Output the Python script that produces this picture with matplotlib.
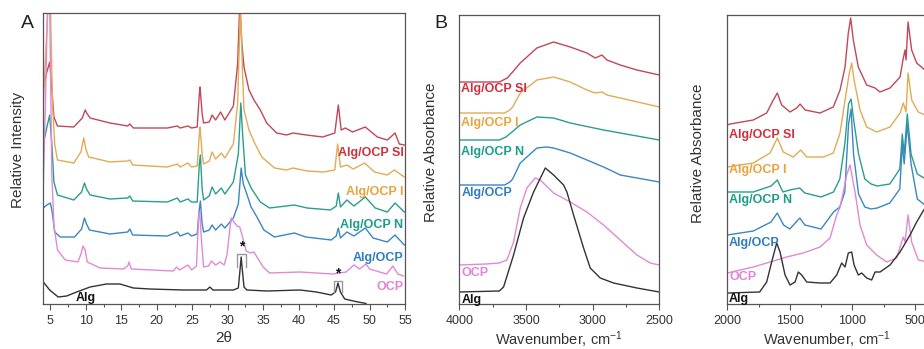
import matplotlib
matplotlib.use("Agg")
import matplotlib.pyplot as plt

plt.rcParams["font.family"] = ["Liberation Sans", "DejaVu Sans"]
plt.rcParams["mathtext.fontset"] = "custom"
plt.rcParams["mathtext.rm"] = "Liberation Sans"
plt.rcParams["mathtext.it"] = "Liberation Sans:italic"

# ---------------- XRD patterns (2theta, stacked intensity, a.u.) ----------------
xrd_alg_x = [4.0, 4.9, 6.1, 7.3, 8.7, 10.6, 12.9, 14.8, 16.7, 19.0, 23.7, 27.0, 27.5, 27.9,
             30.8, 31.5, 31.75, 31.9, 32.05, 32.3, 32.7, 35.5, 40.2, 42.5, 44.6, 45.2, 45.4,
             45.55, 45.7, 45.9, 46.5, 47.7, 49.5]
xrd_alg_y = [22, 14, 7, 8, 12, 17, 20, 20, 16, 15, 14, 14, 17, 14,
             14, 16, 35, 47, 35, 17, 14, 13, 14, 12, 9, 12, 17,
             21, 17, 12, 5, 3, 0.5]

xrd_ocp_x = [4.0, 4.3, 4.6, 4.9, 5.2, 5.5, 6.0, 7.1, 8.9, 9.3, 9.6, 9.9, 10.2, 12.0, 15.3,
             15.9, 16.1, 16.4, 22.3, 22.8, 23.2, 24.4, 24.9, 25.6, 25.9, 26.05, 26.3, 26.6,
             27.3, 27.7, 28.3, 28.9, 29.5, 29.9, 30.3, 30.5, 30.9, 31.3, 31.7, 32.1, 32.6,
             33.2, 33.7, 34.3, 35.0, 35.9, 40.2, 44.8, 46.7, 47.8, 48.6, 49.5, 50.0, 52.4,
             53.3, 54.0, 54.8]
xrd_ocp_y = [120, 200, 300, 300, 130, 79, 54, 44, 42, 50, 58, 54, 42, 36, 35,
             38, 42, 35, 33, 37, 34, 39, 34, 38, 88, 92, 64, 37,
             38, 43, 39, 42, 39, 49, 75, 86, 82, 78, 77, 67, 53,
             51, 52, 45, 37, 31, 32, 30, 32, 39, 35, 40, 35, 30,
             38, 30, 28]

xrd_a_x = [4.0, 4.5, 5.0, 5.3, 5.6, 6.4, 8.4, 9.4, 9.8, 10.1, 10.5, 13.4, 15.9, 16.2, 16.6,
           21.5, 22.9, 23.3, 24.4, 24.9, 25.7, 26.0, 26.15, 26.4, 26.6, 27.4, 27.8, 28.3,
           29.1, 29.6, 30.8, 31.5, 31.9, 32.2, 32.6, 33.3, 34.2, 35.1, 36.6, 39.4, 41.0,
           44.6, 45.3, 45.6, 45.9, 46.8, 47.8, 49.4, 50.5, 52.5, 53.6, 54.9]
xrd_a_y = [96, 99, 101, 90, 72, 67, 67, 75, 86, 80, 74, 70, 72, 75, 69,
           68, 72, 68, 71, 68, 70, 95, 103, 80, 72, 74, 79, 74,
           80, 76, 86, 100, 136, 120, 112, 97, 86, 74, 67, 71, 67,
           64, 68, 76, 66, 72, 68, 76, 66, 62, 69, 59]

xrd_n_x = [4.0, 4.6, 4.9, 5.2, 5.5, 6.0, 8.3, 9.4, 9.8, 10.1, 10.6, 13.4, 15.9, 16.2, 16.6,
           21.5, 22.9, 23.3, 24.4, 24.9, 25.7, 26.0, 26.15, 26.4, 26.6, 27.4, 27.8, 28.3,
           29.1, 29.6, 30.8, 31.5, 31.85, 32.1, 32.5, 33.3, 34.6, 35.9, 39.4, 41.2, 44.5,
           45.3, 45.6, 45.9, 46.8, 47.8, 49.4, 50.8, 52.5, 53.6, 54.9]
xrd_n_y = [160, 180, 189, 160, 122, 109, 104, 112, 121, 115, 109, 105, 106, 108, 103,
           102, 106, 102, 105, 102, 102, 140, 149, 115, 104, 108, 117, 110,
           116, 110, 122, 150, 201, 170, 129, 116, 102, 96, 99, 96, 94,
           98, 111, 97, 104, 98, 107, 96, 92, 101, 92]

xrd_i_x = [4.0, 4.4, 4.7, 5.0, 5.3, 5.6, 6.0, 8.3, 9.3, 9.7, 10.0, 10.4, 13.4, 15.9, 16.2,
           16.6, 21.5, 22.9, 23.3, 24.4, 24.9, 25.7, 26.0, 26.1, 26.4, 26.6, 27.4, 27.8,
           28.3, 29.1, 29.6, 30.8, 31.4, 31.8, 32.1, 32.3, 33.0, 33.8, 34.8, 36.6, 38.3,
           39.2, 41.2, 43.5, 45.1, 45.5, 45.9, 46.8, 47.7, 49.3, 50.7, 52.5, 53.5, 54.9]
xrd_i_y = [200, 260, 300, 300, 200, 160, 144, 141, 152, 166, 155, 147, 142, 143, 144,
           139, 137, 140, 137, 141, 137, 138, 170, 177, 150, 140, 143, 152,
           145, 151, 146, 160, 200, 300, 230, 194, 174, 161, 147, 136, 134,
           136, 133, 132, 134, 160, 137, 139, 135, 141, 132, 129, 134, 127]

xrd_si_x = [4.0, 4.5, 4.9, 5.2, 5.5, 6.0, 8.3, 9.5, 9.9, 10.2, 10.6, 13.4, 15.9, 16.2, 16.7,
            21.5, 22.9, 23.3, 24.4, 24.9, 25.7, 26.0, 26.1, 26.4, 26.6, 27.4, 27.8, 28.3,
            29.0, 29.6, 30.8, 31.4, 31.7, 32.0, 32.3, 33.0, 33.7, 34.6, 35.5, 36.9, 38.3,
            39.2, 41.1, 43.4, 45.1, 45.6, 46.0, 46.6, 47.6, 49.4, 51.1, 52.5, 53.6, 54.2, 54.9]
xrd_si_y = [216, 232, 242, 215, 187, 178, 177, 186, 194, 190, 186, 181, 178, 180, 176,
            176, 178, 176, 178, 176, 177, 210, 217, 190, 181, 182, 189, 184,
            192, 184, 198, 240, 300, 260, 237, 214, 204, 194, 181, 171, 169,
            171, 169, 167, 171, 199, 174, 176, 172, 177, 167, 164, 171, 160, 159]

# NaCl reflections marked with an asterisk on the alginate pattern
nacl_peaks = [31.95, 45.55]
nacl_box_top = [50, 23]
nacl_box_bottom = [37, 12]

# ---------------- FTIR, O-H stretching region (cm-1, stacked absorbance, a.u.) ----------------
oh_si_x = [4000, 3700, 3640, 3600, 3543, 3418, 3293, 3168, 3043, 2980, 2930, 2893, 2793, 2668, 2500]
oh_si_y = [222, 222, 226, 232, 241, 256, 262, 257, 251, 246, 249, 244, 239, 234, 229]
oh_i_x = [4000, 3660, 3620, 3600, 3543, 3418, 3293, 3168, 3043, 2980, 2930, 2893, 2793, 2500]
oh_i_y = [191, 191, 194, 197, 211, 224, 227, 222, 214, 211, 212, 209, 206, 197]
oh_n_x = [4000, 3700, 3650, 3543, 3418, 3293, 3168, 2918, 2500]
oh_n_y = [164, 164, 167, 179, 187, 186, 181, 174, 164]
oh_a_x = [4000, 3660, 3620, 3600, 3543, 3418, 3343, 3293, 3168, 3043, 2918, 2793, 2500]
oh_a_y = [119, 119, 122, 125, 141, 156, 157, 156, 151, 144, 137, 129, 122]
oh_ocp_x = [4000, 3800, 3700, 3643, 3593, 3543, 3493, 3431, 3393, 3293, 3168, 3043, 2918,
            2793, 2668, 2568, 2500]
oh_ocp_y = [39, 40, 41, 44, 62, 96, 116, 126, 124, 111, 102, 92, 79, 64, 49, 41, 39]
oh_alg_x = [4000, 3700, 3668, 3593, 3518, 3443, 3355, 3293, 3218, 3193, 3143, 3068, 3018,
            2943, 2843, 2668, 2500]
oh_alg_y = [12, 13, 17, 49, 86, 112, 136, 129, 119, 112, 89, 56, 36, 26, 21, 16, 12]

# ---------------- FTIR, fingerprint region (cm-1, stacked absorbance, a.u.) ----------------
fp_si_x = [2000, 1978, 1792, 1685, 1632, 1600, 1565, 1498, 1445, 1418, 1378, 1258, 1152, 1098,
           1058, 1032, 1013, 992, 952, 885, 818, 778, 698, 618, 592, 578, 570, 554, 525, 485, 400]
fp_si_y = [179, 180, 184, 191, 204, 211, 199, 192, 196, 200, 194, 191, 197, 214,
           237, 271, 286, 264, 237, 219, 216, 212, 216, 227, 246, 254, 244, 282, 254, 241, 232]
fp_i_x = [2000, 1792, 1658, 1600, 1552, 1472, 1413, 1365, 1232, 1152, 1098, 1058, 1024, 1005,
          986, 938, 885, 805, 698, 618, 592, 570, 554, 525, 472, 400]
fp_i_y = [137, 141, 151, 166, 152, 147, 154, 147, 147, 151, 171, 204, 231, 241,
          224, 194, 177, 172, 177, 191, 201, 192, 231, 204, 192, 188]
fp_n_x = [2000, 1792, 1650, 1600, 1555, 1500, 1420, 1380, 1250, 1150, 1100, 1060, 1030, 1010,
          990, 950, 900, 850, 800, 700, 620, 600, 585, 560, 530, 480, 400]
fp_n_y = [112, 112, 118, 124, 112, 114, 116, 111, 107, 112, 125, 160, 200, 205,
          185, 150, 125, 120, 118, 120, 135, 170, 150, 190, 150, 130, 124]
fp_a_x = [2000, 1792, 1650, 1600, 1550, 1500, 1420, 1380, 1250, 1150, 1100, 1060, 1030, 1010,
          990, 950, 900, 850, 800, 700, 620, 600, 585, 560, 530, 480, 400]
fp_a_y = [69, 73, 82, 91, 79, 75, 86, 79, 75, 92, 97, 112, 180, 195,
          150, 110, 97, 95, 96, 101, 115, 160, 140, 180, 140, 105, 97]
fp_ocp_x = [2000, 1792, 1658, 1525, 1392, 1258, 1178, 1125, 1098, 1072, 1045, 1018, 978, 938,
            885, 805, 725, 645, 605, 592, 578, 554, 525, 472, 400]
fp_ocp_y = [31, 37, 42, 47, 51, 57, 66, 89, 97, 112, 129, 139, 112, 79,
            59, 49, 42, 46, 62, 67, 62, 89, 62, 44, 42]
fp_alg_x = [2000, 1741, 1685, 1645, 1605, 1578, 1538, 1498, 1458, 1432, 1405, 1365, 1258, 1178,
            1125, 1085, 1058, 1032, 1005, 986, 952, 925, 885, 845, 818, 778, 698, 618, 538,
            485, 400]
fp_alg_y = [11, 12, 22, 42, 61, 52, 29, 19, 22, 32, 29, 22, 21, 21,
            29, 41, 37, 51, 52, 39, 29, 31, 26, 24, 32, 32, 39, 52, 69, 82, 100]

names = ["Alg/OCP SI", "Alg/OCP I", "Alg/OCP N", "Alg/OCP", "OCP", "Alg"]
line_colors = ["#c2475a", "#e2ab55", "#2a9d8f", "#3b86c4", "#e08ad6", "#333333"]
text_colors = ["#d0303c", "#e9a33a", "#1a9e8a", "#2d7ec2", "#e384d6", "#111111"]

xrd = [(xrd_si_x, xrd_si_y), (xrd_i_x, xrd_i_y), (xrd_n_x, xrd_n_y),
       (xrd_a_x, xrd_a_y), (xrd_ocp_x, xrd_ocp_y), (xrd_alg_x, xrd_alg_y)]
oh = [(oh_si_x, oh_si_y), (oh_i_x, oh_i_y), (oh_n_x, oh_n_y),
      (oh_a_x, oh_a_y), (oh_ocp_x, oh_ocp_y), (oh_alg_x, oh_alg_y)]
fp = [(fp_si_x, fp_si_y), (fp_i_x, fp_i_y), (fp_n_x, fp_n_y),
      (fp_a_x, fp_a_y), (fp_ocp_x, fp_ocp_y), (fp_alg_x, fp_alg_y)]

# label heights (stacked a.u.) for each panel
xrd_label_y = [151, 112, 79, 46, 17, 6]
oh_label_y = [215, 181, 152, 111, 31, 4]
fp_label_y = [169, 134, 104, 61, 27, 5]

W, H = 924, 349
fig = plt.figure(figsize=(W / 100, H / 100), dpi=100)

def frame(ax):
    for s in ax.spines.values():
        s.set_color("#555555")
        s.set_linewidth(0.9)
    ax.set_yticks([])
    ax.tick_params(axis="x", which="major", length=4, width=0.8, color="#555555",
                   labelsize=9, pad=4, labelcolor="#333333")
    ax.tick_params(axis="x", which="minor", length=2.5, width=0.8, color="#555555")

# Panel A: XRD
axA = fig.add_axes([43.3 / W, 45 / H, 361.7 / W, 291 / H])
for (x, y), c in zip(xrd, line_colors):
    axA.plot(x, y, color=c, lw=1.0)
axA.set_xlim(4, 55)
axA.set_ylim(0, 291)
axA.set_xticks(range(5, 56, 5))
axA.set_xticks([p + 2.5 for p in range(5, 55, 5)], minor=True)
frame(axA)
for k in range(len(nacl_peaks)):
    xc = nacl_peaks[k]
    axA.plot([xc - 0.6, xc - 0.6, xc + 0.6, xc + 0.6],
             [nacl_box_bottom[k], nacl_box_top[k], nacl_box_top[k], nacl_box_bottom[k]],
             color="#9a9a9a", lw=1.0)
    axA.text(xc, nacl_box_top[k] + 1, "*", ha="center", va="bottom", fontsize=10,
             fontweight="bold", color="#111111")
for name, c, ly in zip(names, text_colors, xrd_label_y):
    if name == "Alg":
        axA.text(8.5, ly, name, color=c, fontsize=9, fontweight="bold", ha="left", va="center")
    else:
        axA.text(54.8, ly, name, color=c, fontsize=9, fontweight="bold", ha="right", va="center")
axA.set_xlabel("2θ", fontsize=11, labelpad=3, color="#333333")
axA.text(-0.07, 0.53, "Relative Intensity", transform=axA.transAxes, rotation=90,
         ha="center", va="center", fontsize=11, color="#333333")

# Panel B: FTIR 4000-2500
axB = fig.add_axes([459.3 / W, 45 / H, 200 / W, 289 / H])
for (x, y), c in zip(oh, line_colors):
    axB.plot(x, y, color=c, lw=1.0)
axB.set_xlim(4000, 2500)
axB.set_ylim(0, 289)
axB.set_xticks([4000, 3500, 3000, 2500])
axB.set_xticks([3750, 3250, 2750], minor=True)
frame(axB)
for name, c, ly in zip(names, text_colors, oh_label_y):
    axB.text(3985, ly, name, color=c, fontsize=9, fontweight="bold", ha="left", va="center")
axB.set_xlabel("Wavenumber, cm$^{-1}$", fontsize=10.5, labelpad=2, color="#333333")
axB.text(-0.14, 0.526, "Relative Absorbance", transform=axB.transAxes, rotation=90,
         ha="center", va="center", fontsize=11, color="#333333")

# Panel C: FTIR 2000-400
axC = fig.add_axes([727.3 / W, 45 / H, 200 / W, 289 / H])
for (x, y), c in zip(fp, line_colors):
    axC.plot(x, y, color=c, lw=1.0)
axC.set_xlim(2000, 400)
axC.set_ylim(0, 289)
axC.set_xticks([2000, 1500, 1000, 500])
axC.set_xticks([1750, 1250, 750], minor=True)
frame(axC)
for name, c, ly in zip(names, text_colors, fp_label_y):
    axC.text(1985, ly, name, color=c, fontsize=9, fontweight="bold", ha="left", va="center")
axC.set_xlabel("Wavenumber, cm$^{-1}$", fontsize=10.5, labelpad=2, color="#333333")
axC.text(-0.147, 0.52, "Relative Absorbance", transform=axC.transAxes, rotation=90,
         ha="center", va="center", fontsize=11, color="#333333")

fig.text(27.5 / W, 1 - 23 / H, "A", fontsize=14, ha="center", va="center", color="#222222")
fig.text(441 / W, 1 - 24 / H, "B", fontsize=14, ha="center", va="center", color="#222222")

fig.savefig("out.png", dpi=100)
